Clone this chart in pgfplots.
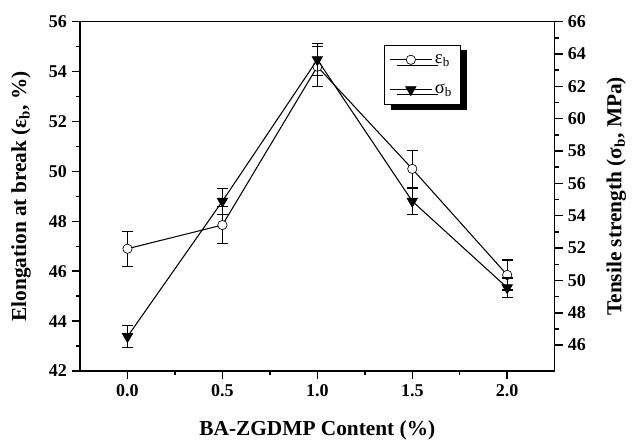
\documentclass[border=0pt]{standalone}
\usepackage{fontspec}
\setmainfont{Liberation Serif}
\usepackage{pgfplots}
\pgfplotsset{compat=1.18}
\usetikzlibrary{shadows}

\pgfplotsset{
  common/.style={
    scale only axis, width=356pt, height=262pt,
    at={(0,0)}, anchor=south west,
    xmin=-0.25, xmax=2.25,
    line width=1.1pt,
    tick align=outside,
    major tick length=6pt, minor tick length=3pt,
    tick style={line width=1.1pt, black},
    tick label style={font=\bfseries\fontsize{13.5}{16}\selectfont},
    label style={font=\bfseries\fontsize{16}{19}\selectfont},
    /pgf/number format/assume math mode=true,
  },
  errs/.style={
    error bars/.cd, y dir=both, y explicit,
    error bar style={line width=0.9pt, black},
    error mark options={rotate=90, mark size=4pt, line width=0.9pt, black},
  },
}

\begin{document}
\begin{tikzpicture}
\path[use as bounding box] (-60pt,-51.75pt) rectangle (414.75pt,278.25pt);

% left axis: elongation at break
\begin{axis}[common,
  ymin=42, ymax=56, ytick={42,44,...,56}, minor y tick num=1,
  xtick={0,0.5,...,2}, minor x tick num=1,
  xtick pos=left, ytick pos=left,
  xticklabel style={/pgf/number format/.cd, fixed, fixed zerofill, precision=1},
  xlabel={BA-ZGDMP Content (\%)},
  ylabel={Elongation at break (ε\textsubscript{b}, \%)},
  x label style={at={(axis description cs:0.5,-0.169)}, anchor=center},
  y label style={at={(axis description cs:-0.124,0.5)}, anchor=center},
]
\addplot[black, line width=0.8pt, mark=*, mark size=3.5pt,
  mark options={fill=white, line width=0.5pt}, errs]
  coordinates {
  (0.0,46.9) +- (0,0.7)
  (0.5,47.85) +- (0,0.75)
  (1.0,54.2) +- (0,0.8)
  (1.5,50.1) +- (0,0.75)
  (2.0,45.85) +- (0,0.6)
};
\end{axis}

% right axis: tensile strength
\begin{axis}[common,
  axis x line=none, axis y line*=right,
  ymin=44.4, ymax=66, ytick={46,48,...,66}, minor y tick num=1,
  ylabel={Tensile strength (σ\textsubscript{b}, MPa)},
  y label style={at={(axis description cs:1.13,0.5)}, anchor=center, rotate=0},
  legend style={at={(0.64,0.934)}, anchor=north west, draw=black,
    line width=0.5pt, fill=white, inner xsep=4pt, inner ysep=5pt,
    row sep=10pt,
    font=\fontsize{14}{16}\selectfont,
    drop shadow={shadow xshift=5pt, shadow yshift=-4pt, fill=black, opacity=1}},
  legend cell align=left,
  legend image code/.code={
    \draw[#1, mark=none] (0cm,0cm) -- (1.1cm,0cm);
    \draw[#1, only marks] plot coordinates {(0.55cm,0cm)};},
]
\addlegendimage{black, line width=0.8pt, mark=*, mark size=3.5pt,
  mark options={fill=white, line width=0.5pt}}
\addlegendentry{ε\textsubscript{b}}
\addplot[black, line width=0.8pt, mark=triangle*, mark size=4.5pt,
  mark options={rotate=180, fill=black, line width=0.5pt}, errs]
  coordinates {
  (0.0,46.53) +- (0,0.7)
  (0.5,54.9) +- (0,0.8)
  (1.0,63.65) +- (0,1.0)
  (1.5,54.9) +- (0,0.8)
  (2.0,49.55) +- (0,0.6)
};
\addlegendentry{σ\textsubscript{b}}
\end{axis}
\end{tikzpicture}
\end{document}
